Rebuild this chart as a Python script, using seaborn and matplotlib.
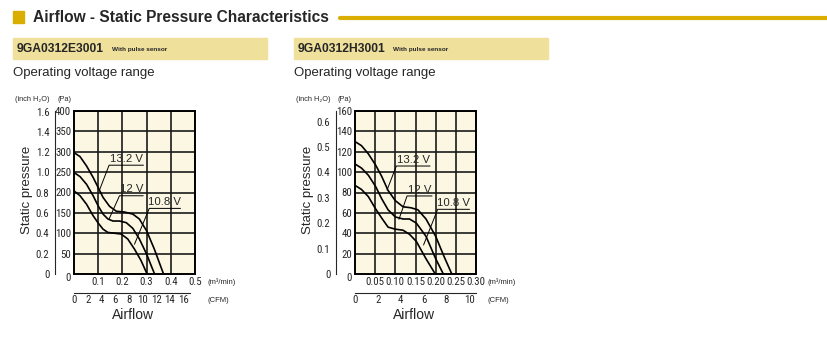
import matplotlib
matplotlib.use("Agg")
import matplotlib.pyplot as plt
from matplotlib import font_manager
from matplotlib.patches import Rectangle
import numpy as np
import pandas as pd
import seaborn as sns

# ---- data ----
voltages = ["13.2 V", "12 V", "10.8 V"]

# 9GA0312E3001 : airflow (m3/min) vs static pressure (Pa)
e_flow_132 = [0.000, 0.025, 0.052, 0.079, 0.100, 0.120, 0.147, 0.175, 0.209, 0.243, 0.270, 0.300, 0.332, 0.355, 0.370]
e_pa_132 = [298, 288, 265, 237, 212, 188, 166, 154, 152, 147, 135, 106, 61, 24, 0]
e_flow_120 = [0.000, 0.025, 0.052, 0.079, 0.100, 0.120, 0.140, 0.161, 0.188, 0.216, 0.243, 0.270, 0.300, 0.322, 0.333]
e_pa_120 = [249, 239, 220, 192, 167, 147, 135, 130, 130, 126, 112, 86, 49, 16, 0]
e_flow_108 = [0.000, 0.025, 0.052, 0.079, 0.100, 0.120, 0.140, 0.168, 0.195, 0.222, 0.250, 0.277, 0.302]
e_pa_108 = [204, 192, 171, 143, 125, 110, 102, 100, 98, 86, 61, 33, 0]

# 9GA0312H3001
h_flow_132 = [0.000, 0.016, 0.033, 0.051, 0.066, 0.082, 0.100, 0.119, 0.139, 0.156, 0.176, 0.200, 0.221, 0.240]
h_pa_132 = [130, 126, 118, 107, 96, 82, 72, 66, 65, 63, 54, 37, 17, 0]
h_flow_120 = [0.000, 0.016, 0.033, 0.051, 0.066, 0.082, 0.100, 0.119, 0.135, 0.152, 0.176, 0.200, 0.219]
h_pa_120 = [108, 104, 97, 86, 74, 63, 56, 54, 54, 50, 37, 15, 0]
h_flow_108 = [0.000, 0.016, 0.033, 0.051, 0.066, 0.082, 0.100, 0.119, 0.135, 0.152, 0.176, 0.199]
h_pa_108 = [87, 83, 76, 64, 55, 46, 44, 43, 39, 32, 15, 0]

# label callouts: (underline x0, x1, y, leader end x, leader end y)
e_callouts = [(0.145, 0.287, 267, 0.104, 204), (0.188, 0.286, 192, 0.145, 135), (0.311, 0.440, 161, 0.250, 73)]
h_callouts = [(0.1025, 0.186, 106, 0.0795, 82.5), (0.129, 0.191, 76.6, 0.109, 53.7), (0.205, 0.284, 63.5, 0.170, 28.5)]

PA_PER_INCH = 249.089
CFM_PER_M3 = 35.3147

W, H = 827, 351
GOLD = "#D9AE00"
BOX = "#EFE09C"
BG = "#FCF7E2"

sns.set_style("white")
plt.rcParams["font.family"] = ["Liberation Sans", "DejaVu Sans"]
available = {f.name for f in font_manager.fontManager.ttflist}
narrow_name = next((n for n in ["Roboto Condensed", "Archivo Narrow", "PT Sans Narrow",
                                "Liberation Sans Narrow", "Fira Sans Condensed", "Open Sans Condensed"]
                    if n in available), None)
if narrow_name:
    NARROW = [narrow_name, "DejaVu Sans"]
    TICK_FS = 7.8
else:
    NARROW = ["Liberation Sans", "DejaVu Sans"]
    TICK_FS = 6.5


def fx(px):
    return px / W


def fy(py):
    return 1 - py / H


fig = plt.figure(figsize=(W / 100, H / 100), dpi=100)

# ---- header ----
fig.patches.append(Rectangle((fx(13), fy(23)), 11 / W, 12 / H, transform=fig.transFigure, color=GOLD))
fig.text(fx(33), fy(17), "Airflow - Static Pressure Characteristics", fontsize=11.2,
         fontweight="bold", va="center", ha="left")
fig.lines.append(plt.Line2D([fx(340), 1.0], [fy(18), fy(18)], transform=fig.transFigure,
                            color=GOLD, lw=3))


def draw_chart(x0, model, flows, pas, callouts, pa_max, pa_step, inch_ticks,
               flow_max, flow_step, flow_fmt, cfm_ticks, cfm_end):
    # model box and caption
    fig.patches.append(Rectangle((fx(x0), fy(59)), 254 / W, 21 / H, transform=fig.transFigure, color=BOX))
    fig.text(fx(x0 + 4), fy(49), model, fontsize=8.7, fontweight="bold", va="center")
    fig.text(fx(x0 + 99), fy(50), "With pulse sensor", fontsize=4.6, fontweight="bold", va="center")
    fig.text(fx(x0), fy(73), "Operating voltage range", fontsize=9.5, va="center")

    left = x0 + 61
    ax = fig.add_axes([fx(left), fy(274), 121 / W, 163 / H])
    ax.set_facecolor(BG)

    rows = []
    for v, fl, pa in zip(voltages, flows, pas):
        rows += [{"flow": a, "pa": b, "v": v} for a, b in zip(fl, pa)]
    df = pd.DataFrame(rows)
    sns.lineplot(data=df, x="flow", y="pa", units="v", estimator=None, sort=False,
                 color="black", lw=1.2, ax=ax, legend=False, zorder=3)

    ax.set_xlim(0, flow_max)
    ax.set_ylim(0, pa_max)
    xt = np.arange(flow_step, flow_max + 1e-9, flow_step)
    ax.set_xticks(xt)
    ax.set_xticklabels([flow_fmt.format(v) for v in xt], fontsize=TICK_FS, family=NARROW)
    yt = np.arange(pa_step, pa_max + 1e-9, pa_step)
    ax.set_yticks(yt)
    ax.set_yticklabels([f"{v:.0f}" for v in yt], fontsize=TICK_FS, family=NARROW)
    ax.tick_params(length=0, pad=2)
    ax.grid(True, color="#1a1a1a", lw=1.2)
    ax.set_axisbelow(True)
    for s in ax.spines.values():
        s.set_visible(True)
        s.set_color("black")
        s.set_linewidth(1.4)
    ax.set_xlabel("")
    ax.set_ylabel("")
    ax.text(-0.03, -0.025, "0", transform=ax.transAxes, ha="right", va="center",
            fontsize=TICK_FS, family=NARROW)

    # callouts
    for v, (ux0, ux1, uy, lx, ly) in zip(voltages, callouts):
        ax.plot([lx, ux0, ux1], [ly, uy, uy], color="black", lw=0.7, zorder=4)
        ax.text((ux0 + ux1) / 2, uy + pa_max * 0.008, v, ha="center", va="bottom", fontsize=8.2,
                zorder=5)

    # inch H2O scale
    axi = fig.add_axes([fx(left - 19), fy(274), 0.0001, 163 / H])
    axi.set_ylim(0, pa_max / PA_PER_INCH)
    axi.set_xticks([])
    axi.set_yticks(inch_ticks)
    axi.set_yticklabels(["0" if v == 0 else f"{v:.1f}" for v in inch_ticks],
                        fontsize=TICK_FS, family=NARROW)
    axi.tick_params(axis="y", length=3, width=0.8, pad=1, direction="out")
    for k, s in axi.spines.items():
        s.set_visible(k == "left")
    axi.spines["left"].set_linewidth(0.8)
    axi.patch.set_visible(False)

    # CFM scale
    axc = fig.add_axes([fx(left), fy(293), 121 / W, 0.0001])
    axc.set_xlim(0, flow_max * CFM_PER_M3)
    axc.set_yticks([])
    axc.set_xticks(cfm_ticks)
    axc.set_xticklabels([f"{v:.0f}" for v in cfm_ticks], fontsize=TICK_FS, family=NARROW)
    axc.tick_params(axis="x", length=3, width=0.8, pad=1.5, direction="in")
    for k, s in axc.spines.items():
        s.set_visible(k == "bottom")
    axc.spines["bottom"].set_linewidth(0.8)
    axc.spines["bottom"].set_bounds(0, cfm_end)
    axc.patch.set_visible(False)

    # unit labels and titles
    fig.text(fx(left + 133), fy(282), "(m³/min)", fontsize=5.5, va="center")
    fig.text(fx(left + 133), fy(300), "(CFM)", fontsize=5.5, va="center")
    fig.text(fx(x0 + 2), fy(100), "(inch H₂O)", fontsize=5.3, va="center")
    fig.text(fx(left - 17), fy(100), "(Pa)", fontsize=5.3, va="center")
    fig.text(fx(x0 + 14), fy(190), "Static pressure", rotation=90, fontsize=9.5,
             ha="center", va="center")
    fig.text(fx(left + 59), fy(315), "Airflow", fontsize=10, ha="center", va="center")


draw_chart(13, "9GA0312E3001",
           [e_flow_132, e_flow_120, e_flow_108], [e_pa_132, e_pa_120, e_pa_108], e_callouts,
           400, 50, [0, 0.2, 0.4, 0.6, 0.8, 1.0, 1.2, 1.4, 1.6],
           0.5, 0.1, "{:.1f}", [0, 2, 4, 6, 8, 10, 12, 14, 16], 17)

draw_chart(294, "9GA0312H3001",
           [h_flow_132, h_flow_120, h_flow_108], [h_pa_132, h_pa_120, h_pa_108], h_callouts,
           160, 20, [0, 0.1, 0.2, 0.3, 0.4, 0.5, 0.6],
           0.30, 0.05, "{:.2f}", [0, 2, 4, 6, 8, 10], 0.30 * CFM_PER_M3)

fig.savefig("out.png", dpi=100)
